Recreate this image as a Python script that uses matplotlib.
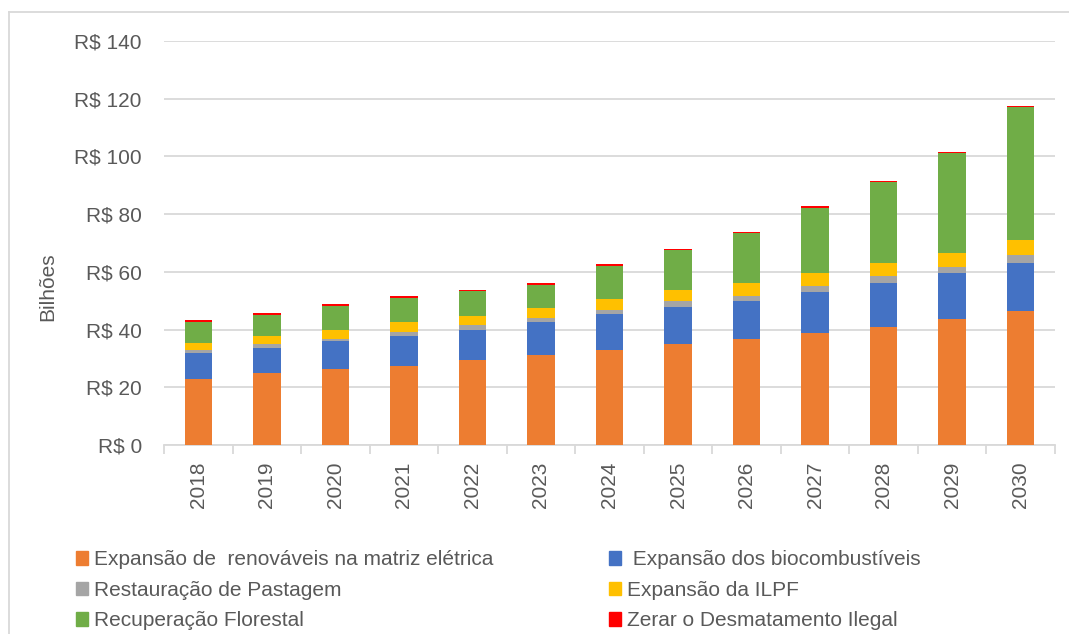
import numpy as np
import matplotlib
matplotlib.use("Agg")
import matplotlib.pyplot as plt
from matplotlib.lines import Line2D
from matplotlib.patches import Patch

plt.rcParams['font.family'] = ['Liberation Sans', 'DejaVu Sans']

years = ['2018', '2019', '2020', '2021', '2022', '2023', '2024',
         '2025', '2026', '2027', '2028', '2029', '2030']

# valores em R$ bilhões
renovaveis = [23.0, 24.8, 26.2, 27.5, 29.3, 31.1, 32.8, 35.0, 36.6, 38.9, 41.0, 43.7, 46.3]
biocombustiveis = [8.9, 8.8, 9.7, 10.2, 10.6, 11.5, 12.5, 12.9, 13.4, 14.1, 15.1, 15.8, 16.8]
pastagem = [0.9, 1.3, 1.0, 1.4, 1.8, 1.3, 1.4, 1.9, 1.7, 2.2, 2.3, 2.3, 2.6]
ilpf = [2.7, 2.8, 3.1, 3.5, 3.1, 3.6, 4.0, 3.9, 4.3, 4.3, 4.7, 4.9, 5.4]
florestal = [7.1, 7.5, 8.3, 8.3, 8.5, 8.0, 11.4, 13.8, 17.4, 22.8, 27.9, 34.6, 46.0]
desmatamento = [0.6, 0.7, 0.6, 0.6, 0.5, 0.5, 0.6, 0.5, 0.5, 0.5, 0.5, 0.4, 0.5]

series = [
    (renovaveis, '#ED7D31', 'Expansão de  renováveis na matriz elétrica'),
    (biocombustiveis, '#4472C4', ' Expansão dos biocombustíveis'),
    (pastagem, '#A5A5A5', 'Restauração de Pastagem'),
    (ilpf, '#FFC000', 'Expansão da ILPF'),
    (florestal, '#70AD47', 'Recuperação Florestal'),
    (desmatamento, '#FF0000', 'Zerar o Desmatamento Ilegal'),
]

txt = '#595959'
gridc = '#D9D9D9'

W, H = 1069, 634
fig = plt.figure(figsize=(W / 100, H / 100), dpi=100)
ax = fig.add_axes([164 / W, 1 - 445 / H, (1055 - 164) / W, (445 - 41) / H])

x = np.arange(len(years))
bottom = np.zeros(len(years))
handles = {}
for vals, col, lab in series:
    vals = np.array(vals)
    ax.bar(x, vals, 0.4, bottom=bottom, color=col, label=lab, zorder=3)
    handles[lab] = Patch(color=col)
    bottom += vals

ax.set_ylim(0, 140)
ax.set_xlim(-0.5, len(years) - 0.5)
ax.set_yticks(np.arange(0, 141, 20))
ax.set_yticklabels(['R$ %d' % v for v in range(0, 141, 20)])
ax.yaxis.grid(True, color=gridc, linewidth=1.3, zorder=0)
ax.tick_params(axis='y', length=0, pad=16, labelsize=15, labelcolor=txt)

ax.set_xticks(x)
ax.set_xticklabels(years, rotation=90)
ax.set_xticks(np.arange(-0.5, len(years), 1), minor=True)
ax.tick_params(axis='x', which='major', length=0, pad=12, labelsize=15, labelcolor=txt)
ax.tick_params(axis='x', which='minor', length=6.5, width=1.3, color=gridc)

for s in ['top', 'right', 'left']:
    ax.spines[s].set_visible(False)
ax.spines['bottom'].set_color(gridc)
ax.spines['bottom'].set_linewidth(1.3)

fig.text(48 / W, 1 - 287 / H, 'Bilhões', rotation=90, ha='center', va='center',
         fontsize=15, color=txt)

# borda da área do gráfico
fig.add_artist(Line2D([9 / W, 9 / W], [0, 1 - 12 / H], color=gridc, linewidth=1.3))
fig.add_artist(Line2D([9 / W, 1], [1 - 12 / H, 1 - 12 / H], color=gridc, linewidth=1.3))

labs = [s[2] for s in series]
col1 = [labs[0], labs[2], labs[4]]
col2 = [labs[1], labs[3], labs[5]]
for names, xpos in [(col1, 68), (col2, 601)]:
    leg = fig.legend([handles[n] for n in names], names, loc='upper left',
                     bbox_to_anchor=(xpos / W, 1 - 542 / H), frameon=False,
                     fontsize=15, handlelength=0.55, handleheight=0.65,
                     handletextpad=0.3, labelspacing=0.55, borderaxespad=0)
    for t in leg.get_texts():
        t.set_color(txt)

fig.savefig('out.png', dpi=100)
